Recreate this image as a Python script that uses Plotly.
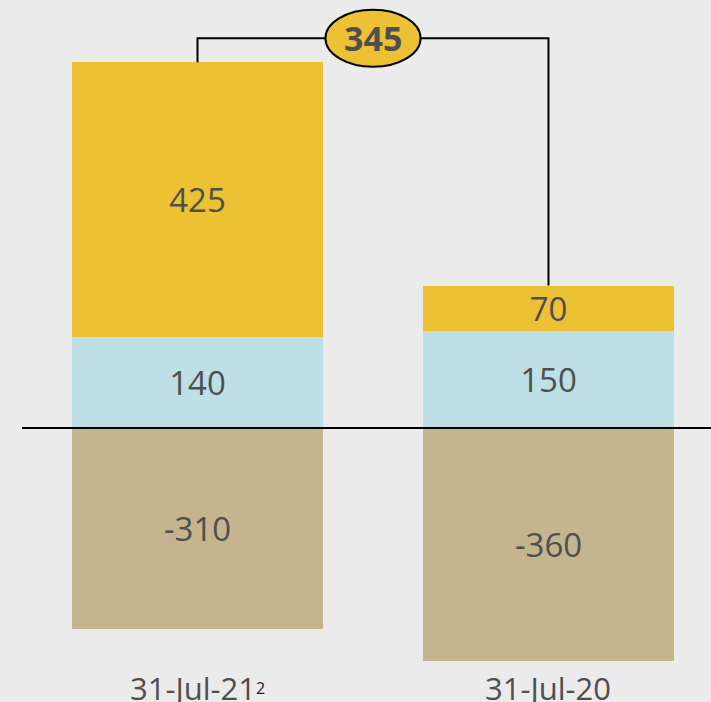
import plotly.graph_objects as go

categories = ["31-Jul-21", "31-Jul-20"]
footnotes = ["2", ""]
blue_vals = [140, 150]
gold_vals = [425, 70]
tan_vals = [-310, -360]

BG = "#ebebeb"
GOLD = "#ecc134"
BLUE = "#bedfe5"
TAN = "#c4b58e"
TXT = "#4f4f4f"
FONT = "Open Sans"

xs = [0, 1]
W = 0.715

fig = go.Figure()

def add_bar(vals, color):
    fig.add_trace(go.Bar(
        x=xs, y=vals, width=W, marker=dict(color=color, line=dict(width=0)),
        text=[str(v) for v in vals], textposition="inside",
        insidetextanchor="middle", textangle=0,
        textfont=dict(family=FONT, size=33, color=TXT),
        hoverinfo="skip", showlegend=False,
    ))

add_bar(blue_vals, BLUE)
add_bar(gold_vals, GOLD)
add_bar(tan_vals, TAN)

totals = [b + g for b, g in zip(blue_vals, gold_vals)]
diff = totals[0] - totals[1]
top_y = max(totals) + 37

# connector
fig.add_shape(type="path",
              path=f"M {xs[0]},{totals[0]} L {xs[0]},{top_y} L {xs[1]},{top_y} L {xs[1]},{totals[1]}",
              xref="x", yref="y", line=dict(color="black", width=2), layer="above")
# zero line
fig.add_shape(type="line", x0=-0.5, x1=1.5, y0=0, y1=0, xref="x", yref="y",
              line=dict(color="black", width=2), layer="above")
# ellipse
mid = (xs[0] + xs[1]) / 2
fig.add_shape(type="circle", xref="x", yref="y",
              x0=mid - 0.1355, x1=mid + 0.1355, y0=top_y - 44, y1=top_y + 44,
              fillcolor=GOLD, line=dict(color="black", width=2), layer="above")
fig.add_annotation(x=mid, y=top_y, xref="x", yref="y", text=f"<b>{diff}</b>",
                   showarrow=False, font=dict(family=FONT, size=34, color=TXT),
                   xanchor="center", yanchor="middle")

for x, c, fn in zip(xs, categories, footnotes):
    t = c
    if fn:
        t += f"<span style='font-size:16px;color:#222222;baseline-shift:6px'>{fn}</span>"
    fig.add_annotation(x=x, y=0.02, xref="x", yref="paper", text=t, showarrow=False,
                       font=dict(family=FONT, size=31, color=TXT),
                       xanchor="center", yanchor="middle")

fig.update_layout(
    width=711, height=702,
    margin=dict(l=0, r=0, t=0, b=0),
    paper_bgcolor=BG, plot_bgcolor=BG,
    barmode="relative",
    bargap=0,
    uniformtext=dict(minsize=33, mode="show"),
    xaxis=dict(range=[-0.5627, 1.4630], visible=False, fixedrange=True),
    yaxis=dict(range=[-423.2, 661.0], visible=False, fixedrange=True),
)

fig.write_html("out.html", config={"displayModeBar": False},
               post_script="document.body.style.margin='0';document.body.style.overflow='hidden';")
